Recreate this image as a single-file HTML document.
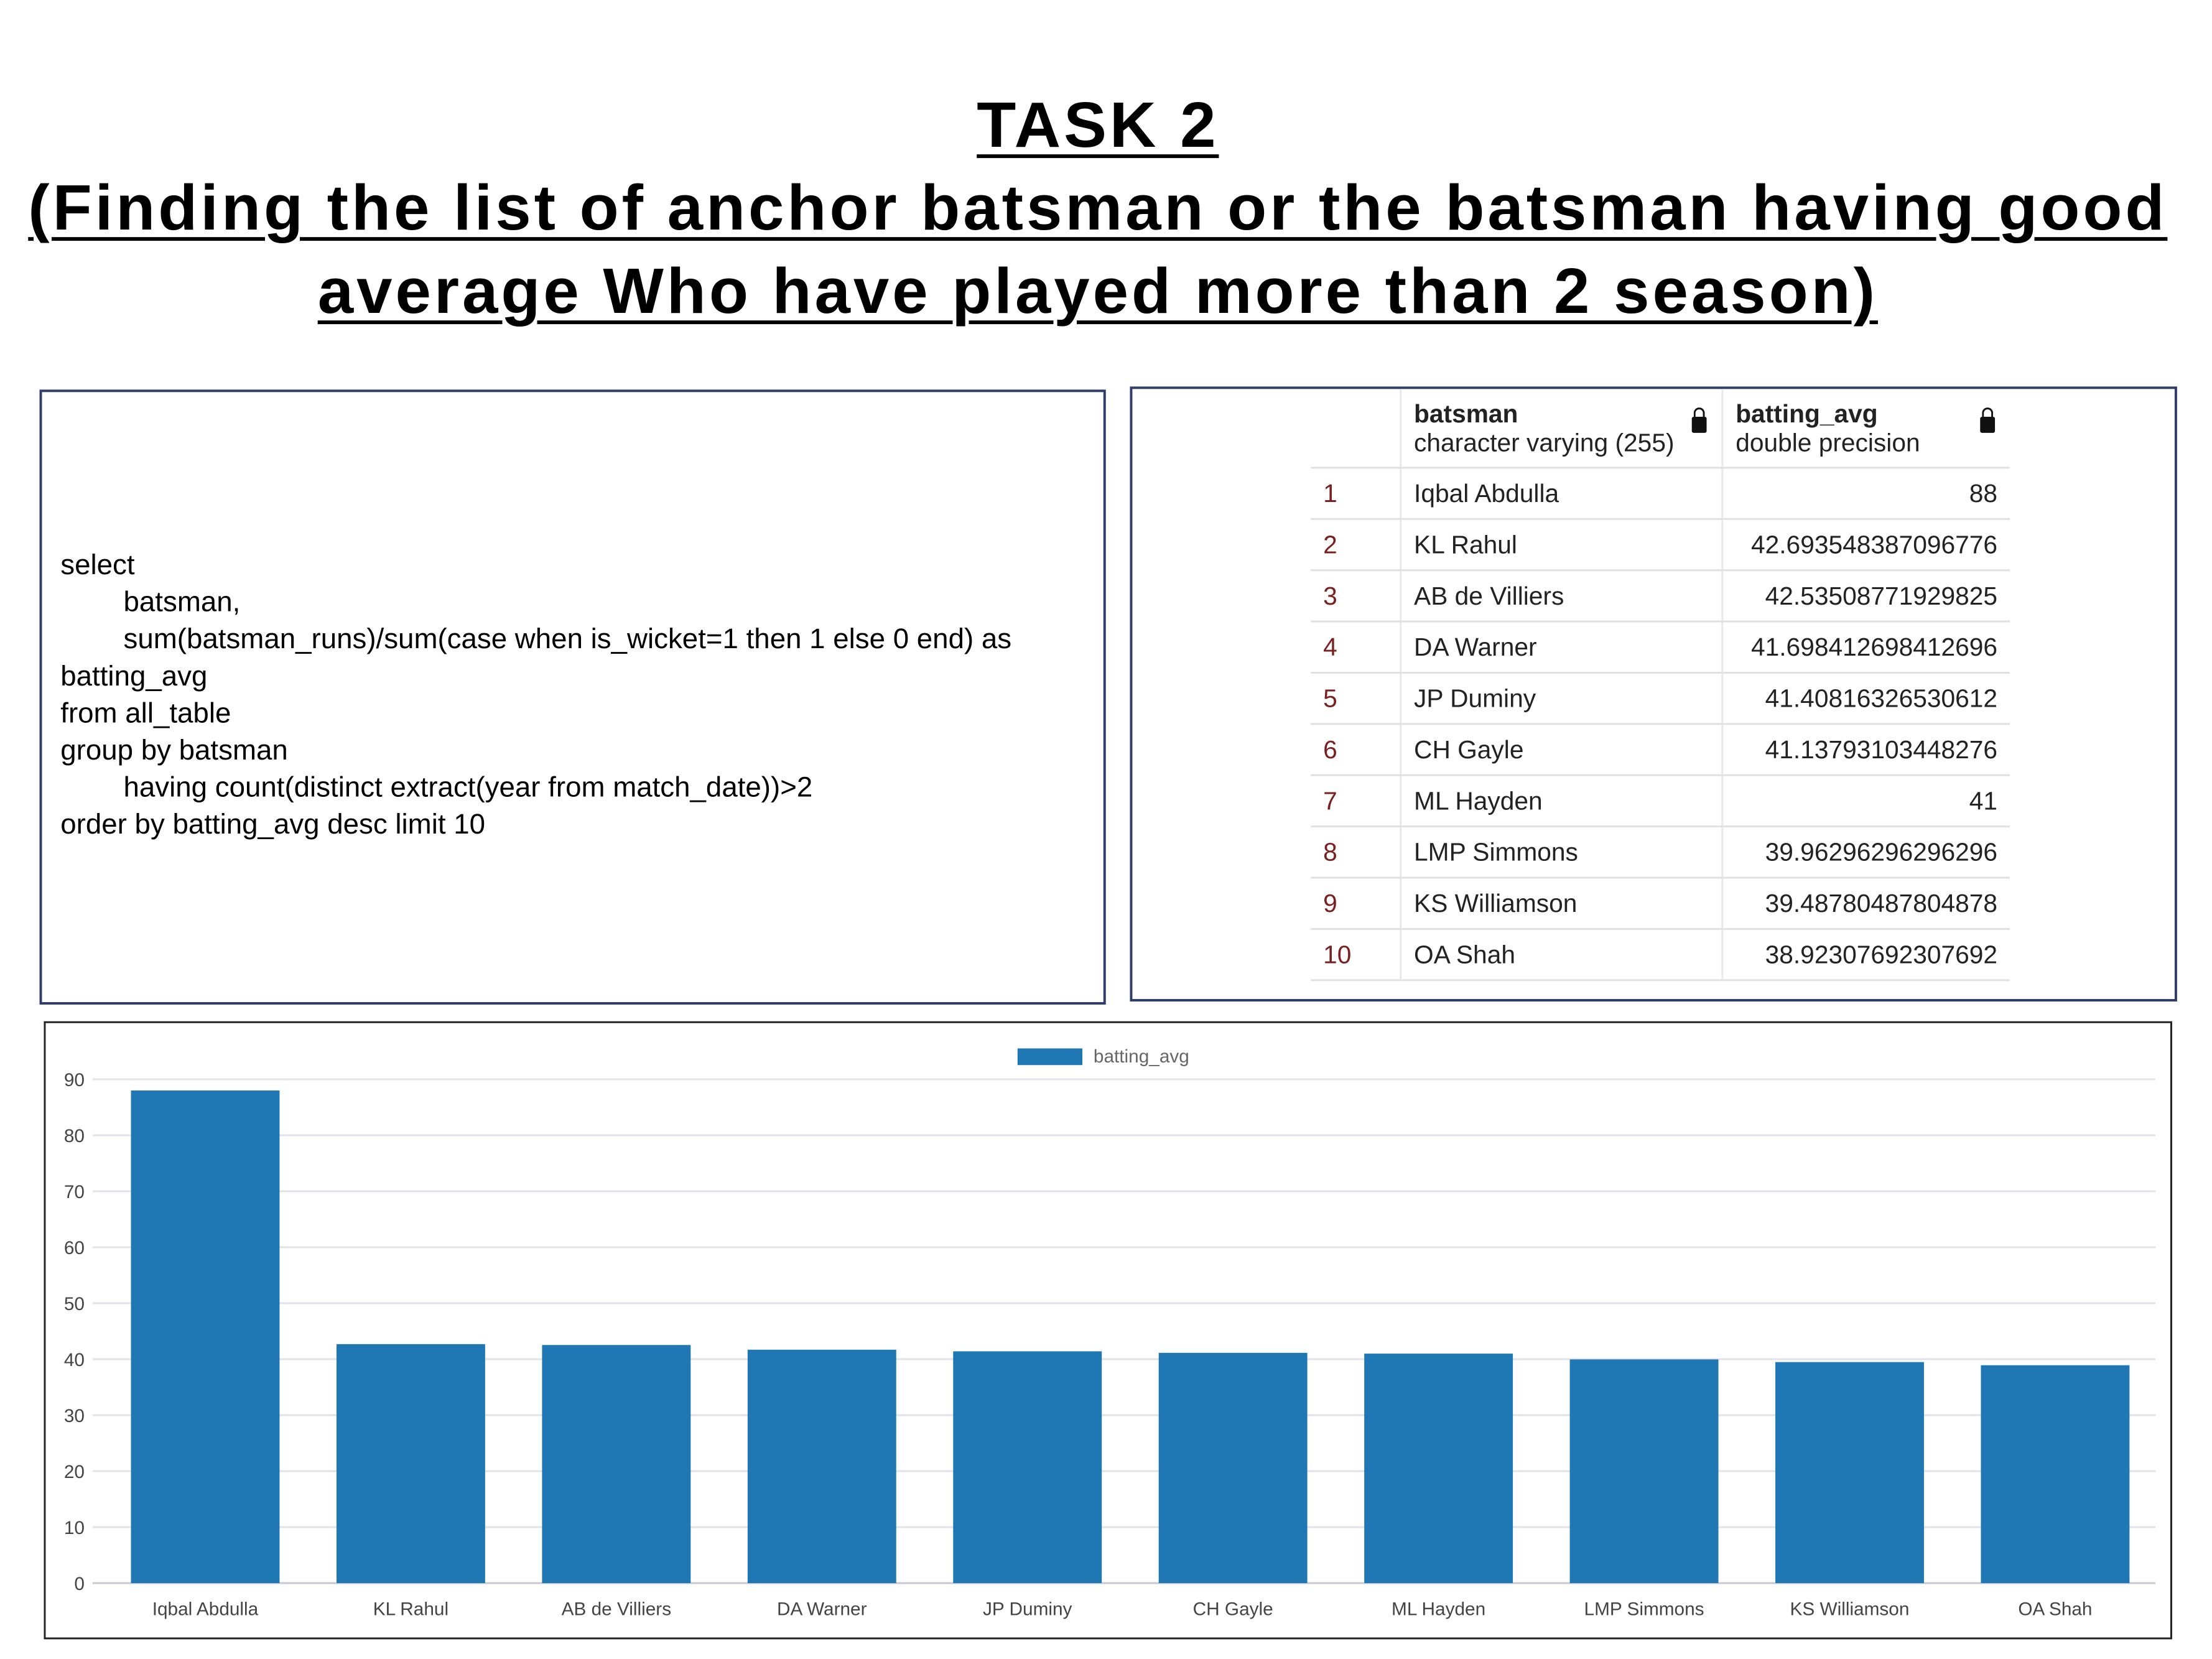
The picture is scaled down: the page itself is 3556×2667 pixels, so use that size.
<!DOCTYPE html>
<html><head><meta charset="utf-8"><style>
body{margin:0;width:3556px;height:2667px;background:#fff;position:relative;overflow:hidden;font-family:"Liberation Sans",sans-serif}
#wrap{position:absolute;left:0;top:0;width:3556px;height:2667px;transform:scale(0.9926);transform-origin:0 0}
.t{position:absolute;left:0;width:3556px;text-align:center;font-weight:bold;font-size:104px;letter-spacing:5px;text-decoration:underline;text-decoration-thickness:6px;text-underline-offset:12px;color:#000}
#sql{position:absolute;left:64px;top:631px;width:1719px;height:988px;border:4px solid #2f3d6b}
#sql div{position:absolute;left:30px;font-size:46px;color:#000;white-space:nowrap}
#tb{position:absolute;left:1830px;top:626px;width:1688px;height:988px;border:4px solid #2f3d6b}
table{position:absolute;left:289px;top:1px;border-collapse:collapse;font-size:41px;color:#222;font-family:"Liberation Sans Narrow","Liberation Sans",sans-serif}
td{height:80px;border-bottom:3px solid #e0e0e0;padding:0 20px;white-space:nowrap}
td.i{width:104px;color:#7a2020}
td.n{width:478px;border-left:3px solid #e8e8e8}
td.v{width:424px;text-align:right;border-left:3px solid #e8e8e8}
th{height:125px;text-align:left;font-weight:normal;padding:0 20px;border-bottom:3px solid #e0e0e0;border-left:3px solid #e8e8e8;position:relative}
th b{display:block}
.lock{position:absolute;right:24px;top:44px;width:24px;height:26px;background:#111;border-radius:3px}
.lock:before{content:"";position:absolute;left:3px;top:-15px;width:12px;height:14px;border:3px solid #111;border-bottom:none;border-radius:9px 9px 0 0}
</style></head><body><div id="wrap">
<div class="t" style="top:144px">TASK 2</div>
<div class="t" style="top:278px">(Finding the list of anchor batsman or the batsman having good</div>
<div class="t" style="top:413px">average Who have played more than 2 season)</div>

<div id="sql">
<div style="top:252px">select</div>
<div style="top:312px;left:132px">batsman,</div>
<div style="top:372px;left:132px">sum(batsman_runs)/sum(case when is_wicket=1 then 1 else 0 end) as</div>
<div style="top:432px">batting_avg</div>
<div style="top:492px">from all_table</div>
<div style="top:552px">group by batsman</div>
<div style="top:612px;left:132px">having count(distinct extract(year from match_date))&gt;2</div>
<div style="top:672px">order by batting_avg desc limit 10</div>
</div>

<div id="tb">
<table>
<tr><th style="border-left:none"></th><th><b>batsman</b>character varying (255)<span class="lock"></span></th><th><b>batting_avg</b>double precision<span class="lock"></span></th></tr>
<tbody id="rows"></tbody>
</table>
</div>

<div style="position:absolute;left:71px;top:1654px;width:3441px;height:995px;border:3px solid #222"></div>
<svg id="chart" width="3556" height="2667" style="position:absolute;left:0;top:0"></svg>
</div>
<script>
const names=["Iqbal Abdulla","KL Rahul","AB de Villiers","DA Warner","JP Duminy","CH Gayle","ML Hayden","LMP Simmons","KS Williamson","OA Shah"];
const valueText=["88","42.693548387096776","42.53508771929825","41.698412698412696","41.40816326530612","41.13793103448276","41","39.96296296296296","39.48780487804878","38.92307692307692"];
const values=[88,42.693548387096776,42.53508771929825,41.698412698412696,41.40816326530612,41.13793103448276,41,39.96296296296296,39.48780487804878,38.92307692307692];
const ticks=[0,10,20,30,40,50,60,70,80,90];

const tb=document.getElementById('rows');
names.forEach((n,i)=>{
  const tr=document.createElement('tr');
  
  
  tr.innerHTML='<td class="i">'+(i+1)+'</td><td class="n">'+n+'</td><td class="v">'+valueText[i]+'</td>';
  tb.appendChild(tr);
});

const NS='http://www.w3.org/2000/svg',svg=document.getElementById('chart');
const x0=166,x1=3495,y0=2564,yTop=1748,band=(x1-x0)/names.length,bw=band*0.723;
const y=v=>y0-(v/90)*(y0-yTop);
function el(t,a,txt){const e=document.createElementNS(NS,t);for(const k in a)e.setAttribute(k,a[k]);if(txt!=null)e.textContent=txt;svg.appendChild(e);return e;}
ticks.forEach(t=>{
  const g=el('line',{x1:150,x2:3491,y1:y(t),y2:y(t),stroke:t===0?'#c8c8d0':'#e2e2ea','stroke-width':3});
  
  
  const l=el('text',{x:137,y:y(t)+11,'text-anchor':'end','font-size':30,fill:'#444','font-family':'Liberation Sans'},t);
  
  
});
values.forEach((v,i)=>{
  const cx=x0+band*(i+0.5);
  const r=el('rect',{x:cx-bw/2,y:y(v),width:bw,height:y0-y(v),fill:'#1f77b4'});
  
  
  const l=el('text',{x:cx,y:2616,'text-anchor':'middle','font-size':30,fill:'#444','font-family':'Liberation Sans'},names[i]);
  
  
});
const lr=el('rect',{x:1648,y:1698,width:105,height:27,fill:'#1f77b4'});


const lt=el('text',{x:1771,y:1721,'font-size':30,fill:'#666','font-family':'Liberation Sans'},'batting_avg');


</script>
</body></html>
